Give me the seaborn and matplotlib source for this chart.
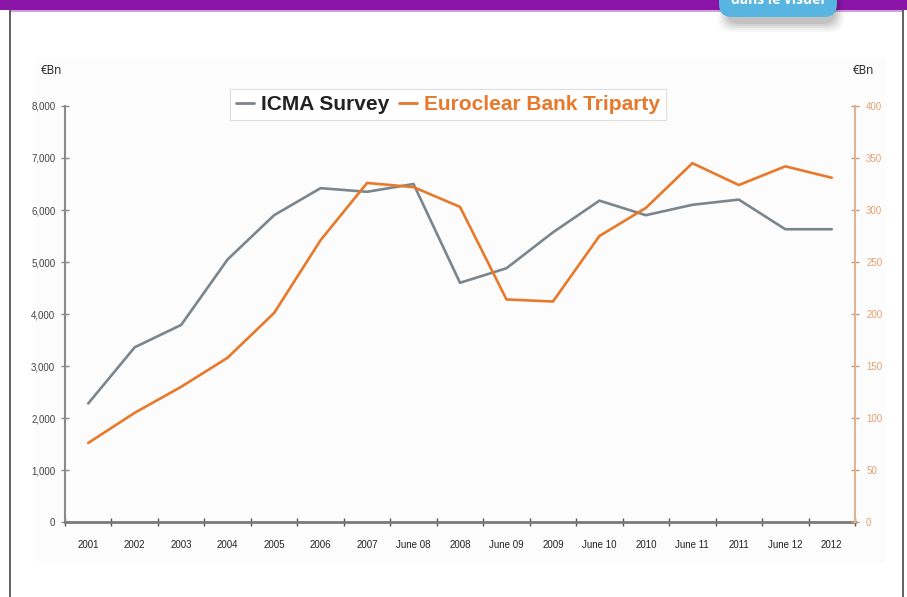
import matplotlib
matplotlib.use('Agg')
import matplotlib.pyplot as plt
import seaborn as sns
import numpy as np
import pandas as pd
from matplotlib.patches import Rectangle, FancyBboxPatch
from matplotlib.lines import Line2D
from matplotlib.ticker import FixedLocator, FuncFormatter

# ---- data ----
categories = ['2001', '2002', '2003', '2004', '2005', '2006', '2007', 'June 08',
              '2008', 'June 09', '2009', 'June 10', '2010', 'June 11', '2011',
              'June 12', '2012']
icma_survey = [2280, 3360, 3790, 5050, 5900, 6420, 6350, 6500, 4600, 4880,
               5570, 6180, 5900, 6100, 6200, 5630, 5630]
euroclear_triparty = [76, 105, 130, 158, 201, 271, 326, 322, 303, 214, 212,
                      275, 302, 345, 324, 342, 331]
left_ticks = [0, 1000, 2000, 3000, 4000, 5000, 6000, 7000, 8000]
right_ticks = [0, 50, 100, 150, 200, 250, 300, 350, 400]
series_names = ['ICMA Survey', 'Euroclear Bank Triparty']
unit_label = '€Bn'

sns.set_style('white')
plt.rcParams['font.family'] = ['Liberation Sans', 'DejaVu Sans']

W, H = 907, 597
fig = plt.figure(figsize=(W / 100, H / 100), dpi=100)

def fx(x):
    return x / W

def fy(y):
    return 1 - y / H

# ---- background / frame layer in pixel coords ----
bg = fig.add_axes([0, 0, 1, 1], zorder=-5)
bg.set_xlim(0, W)
bg.set_ylim(H, 0)
bg.axis('off')
bg.add_patch(Rectangle((36, 58), 850, 505, facecolor='#fcfcfc', edgecolor='none'))
bg.add_patch(Rectangle((0, 0), W, 9.5, facecolor='#8c15a9', edgecolor='none'))
bg.plot([10, 903], [10.5, 10.5], color='#c78fd6', lw=1.2)
bg.plot([10, 10], [10, H], color='#555555', lw=1.3)
bg.plot([903, 903], [10, H], color='#555555', lw=1.3)

top = fig.add_axes([0, 0, 1, 1], zorder=10)
top.set_xlim(0, W)
top.set_ylim(H, 0)
top.axis('off')
# bubble shadow
for i, a in enumerate([0.03, 0.04, 0.05, 0.06, 0.07]):
    g = 10 - 2 * i
    top.add_patch(FancyBboxPatch((722 - g + 6, -30), 112 + 2 * g - 6, 52 + g,
                                 boxstyle='round,pad=0,rounding_size=14',
                                 facecolor='black', edgecolor='none', alpha=a))
top.add_patch(FancyBboxPatch((719, -30), 118, 47,
                             boxstyle='round,pad=0,rounding_size=13',
                             facecolor='#58b4e0', edgecolor='none'))
top.text(778, 4, 'dans le visuel', color='white', fontsize=10, fontweight='bold',
         ha='center', va='baseline', family=['Open Sans', 'DejaVu Sans'])

# ---- main chart ----
ax = fig.add_axes([fx(65), fy(522), (855 - 65) / W, (522 - 106) / H])
ax.patch.set_alpha(0)
xs = np.arange(len(categories))
df = pd.DataFrame({'x': xs, 'icma': icma_survey, 'euro': euroclear_triparty})

grey = '#7b858c'
orange = '#e8782a'
sns.lineplot(data=df, x='x', y='icma', ax=ax, color=grey, lw=1.9, label=series_names[0], legend=False)
ax2 = ax.twinx()
sns.lineplot(data=df, x='x', y='euro', ax=ax2, color=orange, lw=1.9, label=series_names[1], legend=False)

ax.set_xlim(-0.5, len(categories) - 0.5)
ax.set_ylim(0, 8000)
ax2.set_ylim(0, 400)
ax.set_xlabel('')
ax.set_ylabel('')
ax2.set_xlabel('')
ax2.set_ylabel('')

for a in (ax, ax2):
    for s in a.spines.values():
        s.set_visible(False)
ax.spines['left'].set_visible(True)
ax.spines['left'].set_color('#8a8a8a')
ax.spines['left'].set_linewidth(1.5)
ax.spines['bottom'].set_visible(True)
ax.spines['bottom'].set_color('#7a7a7a')
ax.spines['bottom'].set_linewidth(2)
ax2.spines['right'].set_visible(True)
ax2.spines['right'].set_color('#dcb596')
ax2.spines['right'].set_linewidth(1.5)

ax.xaxis.set_major_locator(FixedLocator(xs))
ax.set_xticklabels(categories)
ax.xaxis.set_minor_locator(FixedLocator(np.arange(-0.5, len(categories), 1.0)))
ax.tick_params(axis='x', which='major', length=0, pad=13, labelsize=7, labelcolor='#222222')
ax.tick_params(axis='x', which='minor', length=6, direction='inout', color='#555555', width=1, bottom=True)

ax.yaxis.set_major_locator(FixedLocator(left_ticks))
ax.yaxis.set_major_formatter(FuncFormatter(lambda v, p: f'{int(v):,}'))
ax.tick_params(axis='y', which='major', left=True, length=6, direction='inout', color='#8a8a8a',
               width=1, pad=4, labelsize=7, labelcolor='#444444')

ax2.yaxis.set_major_locator(FixedLocator(right_ticks))
ax2.tick_params(axis='y', which='major', right=True, length=6, direction='inout', color='#c89a78',
                width=1, pad=5, labelsize=7, labelcolor='#e2a272')

# unit labels
fig.text(fx(51), fy(70), unit_label, ha='center', va='center', fontsize=8.5,
         family=['Open Sans', 'DejaVu Sans'], color='#222222')
fig.text(fx(863), fy(70), unit_label, ha='center', va='center', fontsize=8.5,
         family=['Open Sans', 'DejaVu Sans'], color='#222222')

# legend
handles = [Line2D([0], [0], color=grey, lw=2), Line2D([0], [0], color=orange, lw=2)]
leg = fig.legend(handles, series_names, loc='upper left', bbox_to_anchor=(fx(230), fy(89)),
                 bbox_transform=fig.transFigure, ncol=2, frameon=True,
                 prop={'size': 15, 'weight': 'bold'},
                 fancybox=False, framealpha=1, edgecolor='#dddddd', handlelength=0.85,
                 handletextpad=0.35, columnspacing=0.45, borderpad=0.3, borderaxespad=0)
leg.get_frame().set_linewidth(0.8)
leg.get_texts()[0].set_color('#222222')
leg.get_texts()[1].set_color(orange)

fig.savefig('out.png', dpi=100)
